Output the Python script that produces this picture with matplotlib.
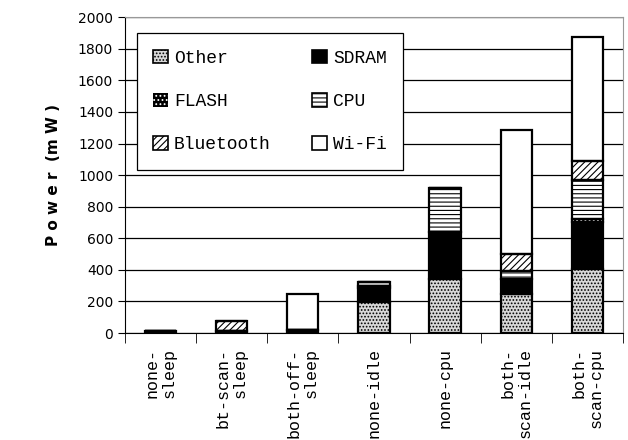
import numpy as np
import matplotlib
matplotlib.use('Agg')
import matplotlib.pyplot as plt
from matplotlib.patches import Patch

# Категории (конфигурации)
categories = ['none-\nsleep', 'bt-scan-\nsleep', 'both-off-\nsleep', 'none-idle',
              'none-cpu', 'both-\nscan-idle', 'both-\nscan-cpu']
# Компоненты мощности, мВт (снизу вверх)
other = [0, 0, 0, 195, 342, 247, 406]
sdram = [12, 12, 22, 92, 296, 95, 296]
flash = [0, 0, 0, 8, 0, 0, 21]
cpu = [0, 0, 0, 30, 280, 49, 247]
bluetooth = [0, 65, 0, 0, 0, 110, 117]
wifi = [0, 0, 225, 0, 0, 786, 788]

series = [('Other', other, '#d8d8d8', 'black', '.....'),
          ('SDRAM', sdram, 'black', 'black', ''),
          ('FLASH', flash, 'black', 'white', '....'),
          ('CPU', cpu, 'white', 'black', '----'),
          ('Bluetooth', bluetooth, 'white', 'black', '/////'),
          ('Wi-Fi', wifi, 'white', 'black', '')]

mono = 'Liberation Mono'
plt.rcParams['hatch.linewidth'] = 0.8

fig = plt.figure(figsize=(6.28, 4.4), dpi=100)
ax = fig.add_axes([0.199, 0.243, 0.793, 0.718])

x = np.arange(len(categories))
width = 0.44
bottom = np.zeros(len(categories))
proxies = {}
for name, vals, fc, hc, hatch in series:
    vals = np.array(vals, dtype=float)
    ax.bar(x, vals, width, bottom=bottom, color=fc, edgecolor=hc,
           hatch=hatch, linewidth=0, zorder=3)
    ax.bar(x, vals, width, bottom=bottom, fill=False, edgecolor='black',
           linewidth=1.6, zorder=4)
    proxies[name] = Patch(facecolor=fc, edgecolor=hc, hatch=hatch,
                          linewidth=1.2 if hc == 'black' else 0)
    bottom += vals

ax.set_xlim(-0.5, 6.5)
ax.set_ylim(0, 2000)
ax.set_yticks(np.arange(0, 2001, 200))
ax.yaxis.grid(True, color='black', linewidth=0.9, zorder=0)
ax.set_axisbelow(True)
ax.tick_params(axis='y', labelsize=10, length=5, direction='out')

ax.set_xticks(x)
ax.set_xticklabels(categories, rotation=90, fontsize=12, family=mono,
                   va='top', ha='center', multialignment='right')
ax.tick_params(axis='x', which='major', length=0, pad=11)
ax.set_xticks(np.arange(-0.5, 7, 1), minor=True)
ax.tick_params(axis='x', which='minor', length=7, direction='out')

ax.spines['top'].set_color('#999999')
ax.spines['right'].set_color('#999999')

ax.set_ylabel('P o w e r  (m W )', fontsize=11, fontweight='bold', labelpad=12)

order = ['Other', 'FLASH', 'Bluetooth', 'SDRAM', 'CPU', 'Wi-Fi']
leg = ax.legend([proxies[n] for n in order], order, ncol=2, loc='upper left',
                bbox_to_anchor=(0.024, 0.949), borderaxespad=0,
                prop={'family': mono, 'size': 13},
                fancybox=False, framealpha=1, edgecolor='black',
                handlelength=0.8, handleheight=0.8, handletextpad=0.35,
                columnspacing=2.3, labelspacing=1.45, borderpad=0.9)
leg.get_frame().set_linewidth(0.9)

plt.savefig('out.png', dpi=100)
